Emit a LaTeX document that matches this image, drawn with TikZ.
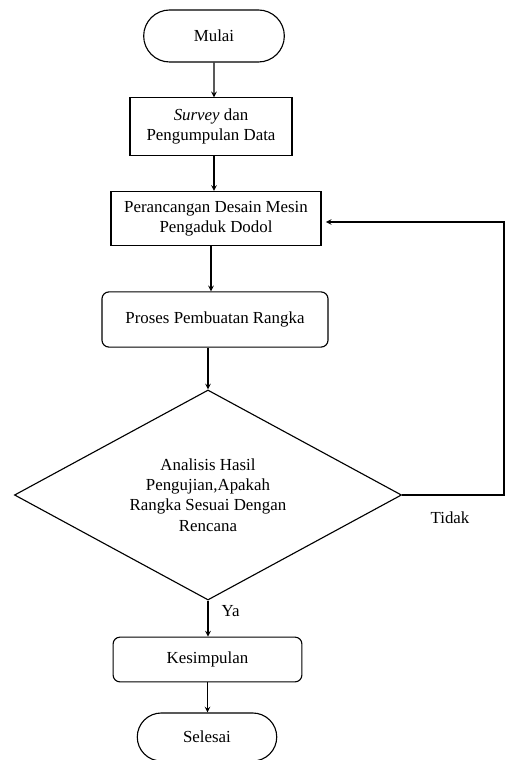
\documentclass[tikz,border=0pt]{standalone}
\usepackage{fontspec}
\setmainfont{Liberation Serif}
\usepackage{tikz}
\usetikzlibrary{shapes,arrows,positioning,calc}

\begin{document}
\begin{tikzpicture}[
    >=stealth,
    x=0.025cm, y=-0.025cm,
    thick,
    every node/.style={font=\fontsize{12}{14.5}\selectfont},
    terminal/.style={draw, rounded rectangle, minimum width=3.75cm, minimum height=1.3cm},
    process/.style={draw, rectangle, align=center, inner sep=2pt},
    roundproc/.style={draw, rectangle, rounded corners=5pt, align=center},
    decision/.style={draw, diamond, aspect=1.84, align=center, inner sep=0pt}
]
    \useasboundingbox (0,0) rectangle (506,760);

    % States - main column top to bottom
    \node[terminal] (mulai) at (214,36) {Mulai};
    \node[process, minimum width=4.05cm, minimum height=1.43cm] (survey) at (211,126.5) {\textit{Survey} dan\\Pengumpulan Data};
    \node[process, minimum width=5.25cm, minimum height=1.35cm] (rancang) at (216,218.5) {Perancangan Desain Mesin\\Pengaduk Dodol};
    \node[roundproc, minimum width=5.65cm, minimum height=1.38cm] (proses) at (215,319.5) {Proses Pembuatan Rangka};
    \node[decision, minimum width=9.675cm, minimum height=5.25cm] (analisis) at (208,495) {Analisis Hasil\\Pengujian,Apakah\\Rangka Sesuai Dengan\\Rencana};
    \node[roundproc, minimum width=4.72cm, minimum height=1.12cm] (kesimpulan) at (207.5,659.5) {Kesimpulan};
    \node[terminal, minimum width=3.72cm, minimum height=1.2cm] (selesai) at (207,737) {Selesai};
    \coordinate (balik) at (504,222);

    % Main path
    \draw[->] (mulai) -- (mulai |- survey.north);
    \draw[->] (survey.south -| mulai) -- (mulai |- rancang.north);
    \draw[->] (rancang.south -| survey) -- (survey |- proses.north);
    \draw[->] (analisis |- proses.south) -- (analisis.north);
    \draw[->] (analisis.south) -- node[right=6pt, pos=0.3] {Ya} (analisis.south |- kesimpulan.north);
    \draw[->] (kesimpulan) -- (kesimpulan |- selesai.north);

    % Back to design if not fitting
    \draw[->, shorten >=3pt] (analisis.east) -| (balik) -- (rancang.east |- balik);
    \node at (450,518) {Tidak};
\end{tikzpicture}
\end{document}
